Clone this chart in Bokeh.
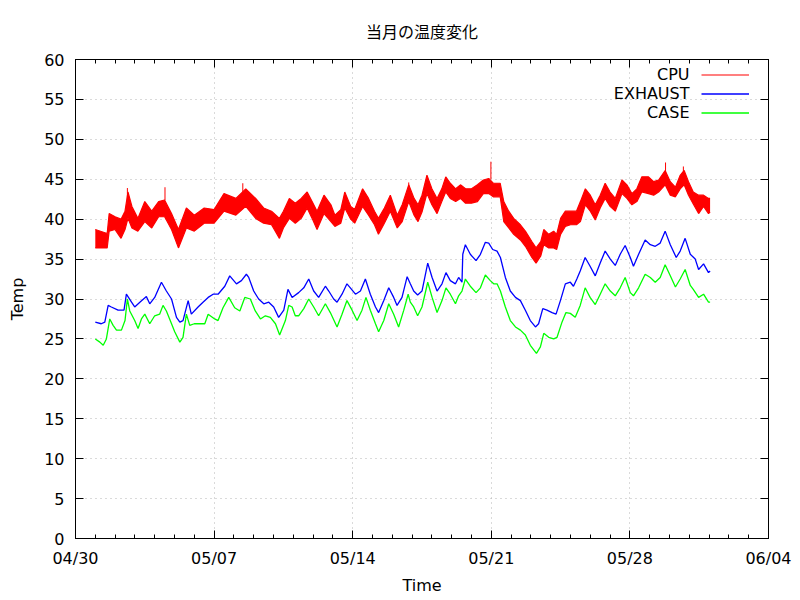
from datetime import datetime, timedelta
from bokeh.plotting import figure
from bokeh.models import (FixedTicker, Range1d, LinearAxis, DatetimeAxis, Legend,
                          LegendItem, Label, DatetimeTickFormatter)
from bokeh.core.properties import value
from bokeh.embed import file_html
from bokeh.resources import INLINE

# ---------------- data ----------------
title_text = "当月の温度変化"
x_label = "Time"
y_label = "Temp"
series_names = ["CPU", "EXHAUST", "CASE"]
series_colors = ["#ff0000", "#0000ff", "#00ff00"]
tick_labels = ["04/30", "05/07", "05/14", "05/21", "05/28", "06/04"]
y_ticks = [0, 5, 10, 15, 20, 25, 30, 35, 40, 45, 50, 55, 60]

# days after 05/01 00:00
cpu_day = [0.0, 0.6, 0.7, 1.0, 1.3, 1.5, 1.65, 1.85, 2.15, 2.5, 2.85, 3.2, 3.5, 3.85, 4.2,
           4.6, 5.0, 5.5, 6.0, 6.5, 7.1, 7.6, 8.1, 8.5, 8.9, 9.3, 9.5, 9.8, 10.1, 10.4,
           10.7, 10.95, 11.2, 11.55, 11.9, 12.1, 12.4, 12.6, 12.9, 13.1, 13.5, 13.8, 14.1, 14.3,
           14.6, 14.9, 15.25, 15.5, 15.83, 16.1, 16.3, 16.5, 16.75, 17.0, 17.26, 17.5, 17.7,
           17.93, 18.2, 18.44, 18.7, 19.0, 19.3, 19.6, 19.87, 20.1, 20.45, 20.63, 20.88, 21.13,
           21.47, 21.72, 22.05, 22.26, 22.5, 22.65, 22.9, 23.15, 23.3, 23.5, 23.74, 24.0, 24.3,
           24.5, 24.75, 25.0, 25.25, 25.5, 25.75, 26.0, 26.26, 26.6, 26.85, 27.1, 27.35, 27.6,
           27.94, 28.2, 28.45, 28.78, 29.04, 29.3, 29.54, 29.74, 29.96, 30.2, 30.47, 30.72,
           30.97, 31.05]
cpu_hi = [38.7, 38.2, 40.7, 40.3, 40.0, 41.0, 43.4, 41.6, 40.1, 42.2, 41.0, 42.2, 42.4, 40.7, 38.7,
          41.4, 40.5, 41.4, 41.2, 43.2, 42.6, 43.8, 42.6, 41.4, 41.0, 40.1, 41.0, 42.6, 42.0, 42.6,
          43.4, 42.2, 41.0, 43.0, 41.8, 40.5, 41.2, 43.4, 41.6, 41.2, 43.8, 42.6, 41.0, 40.1,
          41.4, 43.0, 40.5, 41.8, 44.3, 42.6, 41.8, 43.0, 45.5, 43.8, 42.6, 43.8, 45.3,
          44.5, 43.8, 44.3, 43.8, 43.8, 44.3, 44.9, 45.1, 44.5, 44.5, 42.2, 41.0, 40.1,
          39.3, 38.5, 37.2, 36.4, 37.2, 38.7, 38.1, 38.5, 38.1, 40.1, 41.0, 41.0, 41.0,
          42.2, 43.8, 43.0, 41.8, 43.0, 44.5, 43.4, 42.6, 44.9, 44.3, 43.2, 43.8, 45.3,
          45.3, 44.7, 44.9, 46.1, 44.7, 44.0, 45.5, 46.1, 44.7, 43.4, 43.0, 43.0,
          42.6, 42.6]
cpu_lo = [36.4, 36.4, 38.5, 38.7, 37.6, 38.7, 40.1, 38.9, 38.5, 39.7, 38.9, 40.3, 40.3, 38.7, 36.4,
          38.9, 38.5, 39.5, 39.5, 41.0, 40.5, 41.6, 40.1, 39.5, 39.3, 37.6, 38.9, 40.1, 39.5, 40.1,
          41.4, 40.1, 38.7, 40.7, 39.7, 39.1, 39.5, 41.4, 40.0, 39.5, 41.6, 40.5, 39.3, 38.1,
          39.5, 41.0, 38.9, 39.7, 42.2, 40.5, 39.7, 40.9, 43.2, 41.8, 40.7, 42.2, 43.4,
          42.6, 42.2, 42.6, 42.0, 42.0, 42.2, 43.2, 43.2, 42.8, 42.8, 39.7, 38.9, 38.1,
          37.4, 36.6, 35.2, 34.5, 35.4, 36.8, 36.4, 36.4, 36.2, 38.1, 39.1, 39.3, 39.3,
          39.7, 41.8, 41.0, 39.9, 41.4, 42.6, 41.6, 41.0, 43.2, 42.6, 41.8, 42.2, 43.4,
          43.2, 43.0, 43.4, 44.3, 43.0, 42.8, 43.8, 44.3, 43.0, 41.9, 40.7, 41.6,
          40.7, 40.9]
spike_day = [1.62, 3.52, 7.45, 15.83, 19.98, 28.8, 29.7]
spike_base = [42.5, 42.4, 43.4, 44.0, 45.0, 46.0, 46.0]
spike_top = [43.9, 44.0, 44.5, 44.6, 47.2, 47.1, 46.6]

exhaust_day = [0.0, 0.3, 0.48, 0.65, 0.81, 1.15, 1.45, 1.57, 1.83, 1.99, 2.25, 2.58, 2.75, 3.0,
               3.34, 3.59, 3.85, 4.1, 4.27, 4.43, 4.69, 4.85, 5.19, 5.44, 5.7, 5.95, 6.2, 6.54,
               6.79, 7.13, 7.38, 7.63, 7.75, 8.0, 8.25, 8.51, 8.76, 9.01, 9.26, 9.52, 9.73, 9.94,
               10.27, 10.53, 10.78, 11.03, 11.28, 11.62, 11.79, 12.04, 12.21, 12.46, 12.71, 12.88,
               13.14, 13.39, 13.64, 13.89, 14.15, 14.31, 14.57, 14.82, 15.07, 15.24, 15.49, 15.75,
               15.91, 16.08, 16.28, 16.5, 16.79, 17.01, 17.26, 17.51, 17.71, 17.93, 18.19, 18.35,
               18.52, 18.56, 18.69, 18.94, 19.23, 19.45, 19.7, 19.87, 20.07, 20.29, 20.46, 20.71,
               20.96, 21.22, 21.47, 21.72, 21.97, 22.23, 22.39, 22.6, 22.81, 23.07, 23.27, 23.49,
               23.74, 23.99, 24.15, 24.32, 24.49, 24.74, 24.99, 25.25, 25.5, 25.75, 26.01, 26.26,
               26.51, 26.76, 27.02, 27.18, 27.44, 27.77, 28.03, 28.28, 28.53, 28.78, 29.04, 29.34,
               29.54, 29.79, 30.05, 30.3, 30.47, 30.72, 30.97, 31.05]
exhaust_temp = [27.1, 26.9, 27.1, 29.2, 29.0, 28.6, 28.6, 30.6, 29.6, 29.0, 29.6, 30.3, 29.4, 30.2,
                32.1, 31.0, 30.0, 27.7, 27.1, 27.3, 29.8, 28.1, 29.0, 29.6, 30.2, 30.6, 30.6, 31.6,
                32.9, 31.9, 32.3, 33.1, 32.7, 31.0, 30.0, 29.4, 29.6, 29.0, 27.7, 28.6, 31.2, 30.2,
                30.8, 31.4, 32.5, 31.0, 30.2, 31.6, 31.0, 30.0, 29.6, 30.6, 31.9, 31.4,
                30.6, 31.0, 32.5, 30.6, 29.0, 28.3, 29.8, 31.4, 30.2, 29.2, 30.2, 32.8,
                31.9, 31.0, 30.5, 31.0, 34.5, 32.7, 31.0, 31.9, 33.3, 32.3, 31.9, 32.7,
                32.1, 35.6, 36.8, 35.6, 34.8, 35.6, 37.1, 37.0, 36.2, 36.0, 35.2, 32.7,
                31.0, 30.2, 29.8, 28.6, 27.3, 26.5, 26.9, 28.8, 28.6, 28.3, 28.1, 29.8,
                31.9, 32.1, 31.6, 32.5, 33.5, 35.2, 34.1, 32.9, 34.5, 36.0, 35.0, 34.2,
                35.6, 36.7, 35.2, 34.1, 35.6, 37.4, 36.8, 36.6, 37.0, 38.5, 36.8, 35.2,
                36.0, 37.6, 35.6, 35.0, 33.7, 34.4, 33.3, 33.5]

case_day = [0.0, 0.23, 0.4, 0.56, 0.73, 0.9, 1.07, 1.32, 1.5, 1.62, 1.74, 1.99, 2.16, 2.33, 2.5,
            2.75, 3.0, 3.25, 3.42, 3.59, 3.85, 4.01, 4.27, 4.43, 4.6, 4.77, 5.0, 5.53, 5.7, 6.03,
            6.2, 6.45, 6.74, 7.04, 7.3, 7.55, 7.83, 8.08, 8.34, 8.59, 8.84, 9.1, 9.31, 9.6, 9.77,
            9.94, 10.1, 10.27, 10.53, 10.78, 11.03, 11.28, 11.62, 11.87, 12.21, 12.46, 12.71,
            12.97, 13.22, 13.47, 13.67, 13.89, 14.15, 14.31, 14.57, 14.82, 15.07, 15.32, 15.58,
            15.8, 15.91, 16.08, 16.28, 16.5, 16.79, 17.01, 17.26, 17.51, 17.71, 17.93, 18.19,
            18.35, 18.52, 18.69, 18.94, 19.23, 19.45, 19.7, 19.95, 20.12, 20.29, 20.46, 20.71,
            20.96, 21.22, 21.47, 21.72, 21.97, 22.28, 22.48, 22.65, 22.9, 23.15, 23.32, 23.57,
            23.77, 23.99, 24.24, 24.49, 24.74, 24.99, 25.25, 25.5, 25.75, 26.01, 26.26, 26.51,
            26.76, 27.02, 27.18, 27.44, 27.77, 28.03, 28.28, 28.53, 28.78, 29.04, 29.3, 29.54,
            29.79, 30.05, 30.2, 30.47, 30.72, 30.97, 31.05]
case_temp = [25.0, 24.6, 24.2, 25.0, 27.5, 26.7, 26.1, 26.1, 27.3, 30.0, 28.5, 27.3, 26.3, 27.5, 28.1,
             26.9, 27.9, 28.1, 29.2, 28.5, 26.9, 25.9, 24.6, 25.2, 28.1, 26.7, 26.9, 26.9, 28.1, 27.5,
             27.3, 28.9, 30.2, 28.9, 28.5, 30.2, 30.0, 28.5, 27.5, 27.9, 27.7, 26.9, 25.5, 27.3, 29.2,
             29.0, 27.9, 27.9, 28.8, 30.0, 29.0, 27.9, 29.4, 28.3, 26.5, 28.1, 29.8,
             28.6, 27.3, 28.6, 30.2, 28.6, 26.9, 25.9, 27.3, 29.4, 28.1, 26.5, 28.6,
             30.6, 29.6, 29.0, 27.9, 29.0, 32.1, 30.2, 28.3, 29.8, 31.4, 30.6, 29.4,
             30.4, 31.0, 32.5, 31.6, 30.8, 31.4, 33.0, 32.3, 31.9, 31.9, 31.0, 29.0,
             27.3, 26.5, 26.1, 25.5, 24.2, 23.2, 24.0, 25.7, 25.2, 25.0, 25.2, 27.1,
             28.3, 28.2, 27.7, 29.2, 31.4, 30.2, 29.3, 30.6, 31.9, 31.0, 30.4, 31.4,
             32.7, 30.8, 30.4, 31.4, 33.1, 32.7, 32.1, 32.7, 34.3, 32.9, 31.5, 32.5,
             33.7, 31.7, 31.2, 30.2, 30.6, 29.6, 29.6]

assert len(cpu_day) == len(cpu_hi) == len(cpu_lo)
assert len(exhaust_day) == len(exhaust_temp)
assert len(case_day) == len(case_temp)

# ---------------- helpers ----------------
EPOCH = datetime(1970, 1, 1)
data_start = datetime(2015, 5, 1)
x_start = datetime(2015, 4, 30)
x_end = datetime(2015, 6, 4)


def ms(dt):
    return (dt - EPOCH).total_seconds() * 1000.0


def to_x(days):
    return [ms(data_start + timedelta(days=d)) for d in days]


tick_ms = [ms(x_start + timedelta(days=7 * i)) for i in range(len(tick_labels))]
minor_ms = [ms(x_start + timedelta(days=i)) for i in range(36)]

FONT = "DejaVu Sans"

p = figure(width=800, height=600, output_backend="svg", toolbar_location=None,
           x_axis_type="datetime",
           x_range=Range1d(ms(x_start), ms(x_end)), y_range=Range1d(0, 60),
           min_border_left=75, min_border_right=32, min_border_top=58, min_border_bottom=62,
           title=title_text)
p.title.align = "center"
p.title.text_font = "Noto Sans CJK JP"
p.title.text_font_size = "16px"
p.title.text_font_style = "normal"
p.title.text_color = "black"
p.title.standoff = 33
p.outline_line_color = "black"
p.outline_line_width = 1
p.background_fill_color = "white"
p.border_fill_color = "white"

xt = FixedTicker(ticks=tick_ms, minor_ticks=minor_ms)
yt = FixedTicker(ticks=y_ticks)

fmt = DatetimeTickFormatter(microseconds="%m/%d", milliseconds="%m/%d", seconds="%m/%d",
                            minsec="%m/%d", minutes="%m/%d", hourmin="%m/%d", hours="%m/%d",
                            days="%m/%d", months="%m/%d", years="%m/%d")

xa = p.below[0]
ya = p.left[0]
xa.ticker = xt
xa.formatter = fmt
xa.major_label_overrides = {int(t): lab for t, lab in zip(tick_ms, tick_labels)}
ya.ticker = yt

for ax in (xa, ya):
    ax.axis_line_color = "black"
    ax.major_tick_line_color = "black"
    ax.minor_tick_line_color = "black"
    ax.major_tick_in = 8
    ax.major_tick_out = 0
    ax.major_label_text_font = FONT
    ax.major_label_text_font_size = "16px"
    ax.major_label_text_color = "black"
    ax.axis_label_text_font = FONT
    ax.axis_label_text_font_size = "16px"
    ax.axis_label_text_font_style = "normal"
    ax.axis_label_text_color = "black"

xa.minor_tick_in = 4
xa.minor_tick_out = 0
xa.major_label_standoff = 10
xa.axis_label = x_label
xa.axis_label_standoff = 5
ya.minor_tick_in = 0
ya.minor_tick_out = 0
ya.major_label_standoff = 11
ya.axis_label = y_label
ya.axis_label_standoff = 14

# mirrored ticks on the top and right edges (no labels drawn)
top_ax = DatetimeAxis(ticker=xt, formatter=fmt, major_tick_in=8, major_tick_out=0,
                      minor_tick_in=4, minor_tick_out=0, major_label_text_font_size="1px",
                      major_label_text_color=None, major_label_standoff=0,
                      axis_line_color="black",
                      major_tick_line_color="black", minor_tick_line_color="black")
right_ax = LinearAxis(ticker=yt, major_tick_in=8, major_tick_out=0, minor_tick_in=0,
                      minor_tick_out=0, major_label_text_font_size="1px",
                      major_label_text_color=None, major_label_standoff=0,
                      axis_line_color="black", major_tick_line_color="black")
p.add_layout(top_ax, "above")
p.add_layout(right_ax, "right")

for g, t in ((p.xgrid[0], xt), (p.ygrid[0], yt)):
    g.ticker = t
    g.grid_line_color = "#b4b4b4"
    g.grid_line_dash = "1 4"
    g.grid_line_width = 1

# ---------------- series ----------------
cx = to_x(cpu_day)
p.varea(x=cx, y1=cpu_lo, y2=cpu_hi, fill_color=series_colors[0])
r_cpu = p.line(cx, cpu_hi, line_color=series_colors[0], line_width=1.2)
p.line(cx, cpu_lo, line_color=series_colors[0], line_width=1.2)
p.segment(x0=to_x(spike_day), y0=spike_base, x1=to_x(spike_day), y1=spike_top,
          line_color=series_colors[0], line_width=1)
r_exh = p.line(to_x(exhaust_day), exhaust_temp, line_color=series_colors[1], line_width=1.3)
r_case = p.line(to_x(case_day), case_temp, line_color=series_colors[2], line_width=1.3)

legend = Legend(items=[LegendItem(label=value(" "), renderers=[r]) for r in (r_cpu, r_exh, r_case)],
                location="top_right", margin=0, padding=6, spacing=0,
                glyph_width=48, glyph_height=19, label_height=19, label_width=0,
                label_standoff=13, label_text_font_size="16px",
                border_line_alpha=0, background_fill_alpha=0)
p.add_layout(legend)

legend_x = ms(x_start + timedelta(days=31.01))
for name, yv in zip(series_names, (58.06, 55.69, 53.31)):
    p.add_layout(Label(x=legend_x, y=yv, text=name, text_align="right", text_baseline="middle",
                       text_font=FONT, text_font_size="16px", text_color="black"))

open("out.html", "w").write(file_html(p, INLINE))
